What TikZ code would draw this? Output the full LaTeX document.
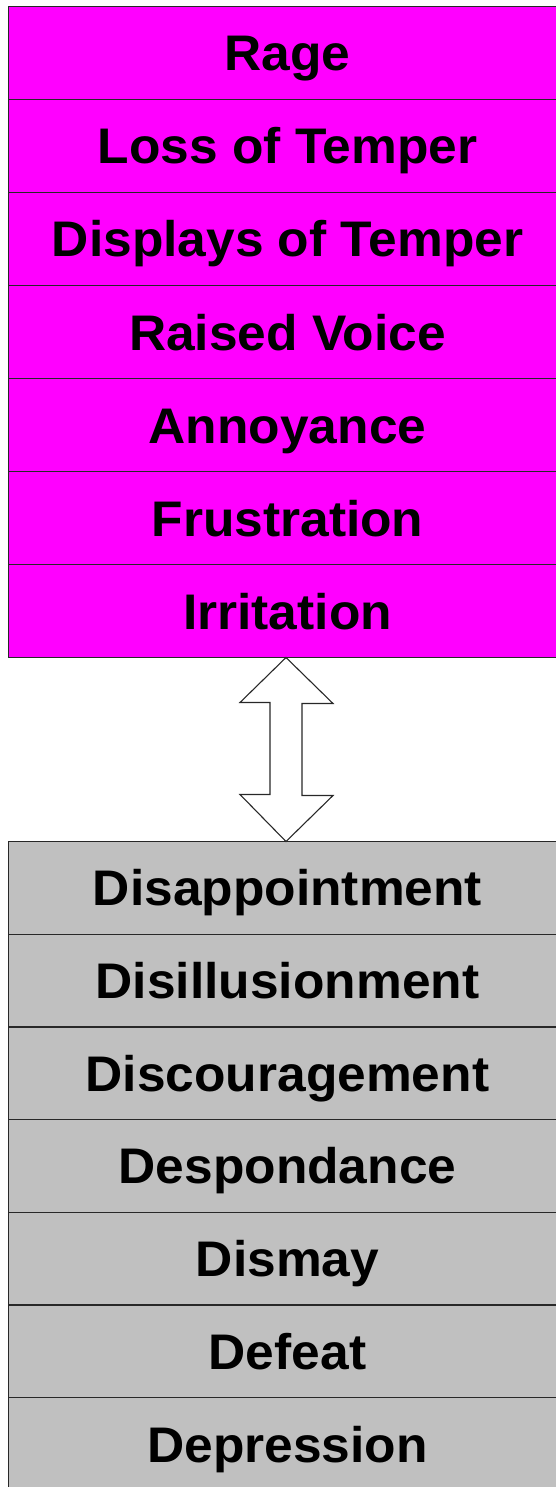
\documentclass[tikz,border=0pt]{standalone}
\usepackage{fontspec}
\setmainfont[FakeStretch=1.03]{Liberation Sans}
\usepackage{tikz}
\usetikzlibrary{positioning}
\definecolor{angermagenta}{RGB}{255,0,255}
\definecolor{moodgray}{RGB}{192,192,192}
\definecolor{rulegray}{RGB}{40,40,40}

\begin{document}
\begin{tikzpicture}[
        x=1pt, y=-1pt,
        node distance=0pt,
        angerrow/.style={rectangle, fill=angermagenta, minimum width=558pt, minimum height=93pt, inner sep=0pt, outer sep=0pt, text height=36pt, text depth=0pt, font=\fontsize{50}{52}\selectfont\bfseries, anchor=north west},
        moodrow/.style={angerrow, fill=moodgray, minimum height=92.7pt},
        rowrule/.style={draw=rulegray, line width=1.3pt},
        bigarrow/.style={draw=rulegray, fill=white, line width=1.1pt, line join=miter}
    ]
        \useasboundingbox (0,0) rectangle (556,1487);
        \clip (0,0) rectangle (556,1487);

        % Upper stack
        \node[angerrow] (rage) at (8.5,6.5) {Rage};
        \node[angerrow, below=of rage.south west, anchor=north west] (loss) {Loss of Temper};
        \node[angerrow, below=of loss.south west, anchor=north west] (displays) {Displays of Temper};
        \node[angerrow, below=of displays.south west, anchor=north west] (raised) {Raised Voice};
        \node[angerrow, below=of raised.south west, anchor=north west] (annoyance) {Annoyance};
        \node[angerrow, below=of annoyance.south west, anchor=north west] (frustration) {Frustration};
        \node[angerrow, below=of frustration.south west, anchor=north west] (irritation) {Irritation};

        % Lower stack
        \node[moodrow] (disappointment) at (8.5,841.5) {Disappointment};
        \node[moodrow, below=of disappointment.south west, anchor=north west] (disillusion) {Disillusionment};
        \node[moodrow, below=of disillusion.south west, anchor=north west] (discourage) {Discouragement};
        \node[moodrow, below=of discourage.south west, anchor=north west] (despond) {Despondance};
        \node[moodrow, below=of despond.south west, anchor=north west] (dismay) {Dismay};
        \node[moodrow, below=of dismay.south west, anchor=north west] (defeat) {Defeat};
        \node[moodrow, below=of defeat.south west, anchor=north west] (depression) {Depression};

        % Row borders, drawn over the fills
        \foreach \row in {rage,loss,displays,raised,annoyance,frustration,irritation,
                          disappointment,disillusion,discourage,despond,dismay,defeat,depression}
            \draw[rowrule] (\row.north west) rectangle (\row.south east);

        % Double-headed arrow between the stacks
        \coordinate (tiptop) at (irritation.south -| 286,0);
        \coordinate (tipbot) at (disappointment.north -| 286,0);
        \draw[bigarrow] (tiptop) -- ++(-46,45) -- ++(30,0) -- ++(0,92)
            -- ++(-30,0) -- (tipbot) -- ++(47,-46) -- ++(-31,0)
            -- ++(0,-92) -- ++(31,0) -- cycle;

    \end{tikzpicture}
\end{document}
